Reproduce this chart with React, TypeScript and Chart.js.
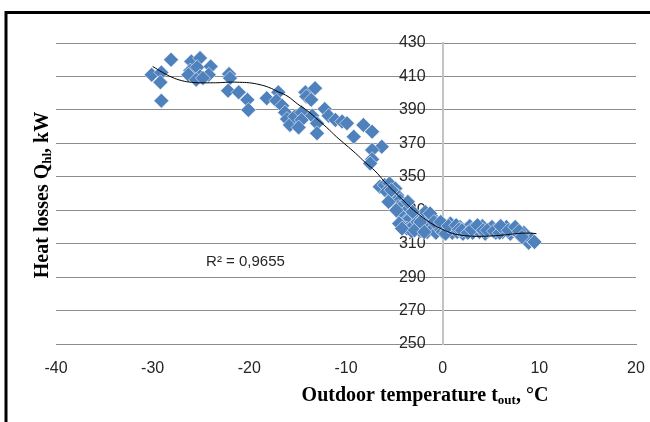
import React, { useEffect, useRef } from "react";
import { Chart, registerables } from "chart.js";

Chart.register(...registerables);

// Measured points: outdoor temperature (°C) and heat losses (kW)
const TEMP_C = [
  -30.1, -29.1, -29.2, -29.1, -28.1, -26.0, -25.1, -26.1, -25.4, -26.3, -25.1, -25.5, -24.0, -24.2, -24.8,
  -22.1, -22.0, -22.2, -21.1, -20.2, -20.1,
  -18.2, -17.0, -17.2, -16.6, -16.3, -16.1, -15.8, -15.3, -14.6, -14.2, -13.2, -14.1, -13.6, -14.6, -14.9,
  -13.5, -13.0, -13.0, -12.2, -11.8, -11.1, -10.4, -9.9, -9.2, -8.2, -7.3, -6.3, -7.3, -7.3, -7.5,
  -6.5, -6.0, -5.5, -4.9, -5.8, -5.2, -4.7, -4.9, -4.4, -4.6, -4.1, -3.8, -4.3, -3.5, -3.9, -3.4, -3.7,
  -3.2, -3.0, -2.8, -2.6, -2.4, -2.2, -2.0, -1.8, -1.6, -1.4, -1.1, -1.0, -0.7, -0.5, -0.3,
  0.0, 0.2, 0.5, 0.8, 1.0, 1.2, 1.5, 1.8, 2.1, 2.4, 2.8, 3.1, 3.4, 3.8, 4.1, 4.4, 4.8, 5.1, 5.5, 5.8,
  6.2, 6.6, 7.0, 7.3, 7.7, 8.0, 8.4, 8.6, 8.9, 9.2, 9.5,
  -5.6, -5.3, -4.8, -4.5, -4.2, -3.6, -3.1, -2.9, -2.3, -1.9, -1.3, -0.9, -0.2, 0.3, 0.6,
  1.4, 1.7, 2.0, 2.6, 3.0, 3.6, 4.2, 4.6, 5.3, 5.9, 6.0, 6.8, 7.5, 7.9, 8.2,
];
const HEAT_KW = [
  411, 412.4, 406.5, 395.5, 420, 419, 421, 413.5, 415.5, 411, 410, 408, 416, 411, 409,
  411.5, 409, 401.5, 400.5, 396, 390,
  397, 400.5, 395.5, 392.5, 388.5, 384.5, 381, 386, 388.5, 400.5, 403, 398, 396, 384, 379.5,
  386.5, 382, 376, 390.5, 386.5, 384, 383, 382, 374, 381, 377, 368, 366, 360.5, 358,
  344, 345, 346, 343, 341, 338, 339, 335, 336, 332, 333, 329, 327, 331, 323, 325, 319,
  317.5, 321, 327, 323, 318, 320.5, 325, 329, 317, 322, 326, 319, 316.5, 322, 319,
  317, 321, 318, 322, 316.5, 319.5, 317, 320, 316, 318.5, 320.5, 316.5, 319, 317, 320.5, 316, 318.5, 320, 316.5, 319,
  317, 320, 316, 318.5, 317, 315, 316.5, 313, 310.5, 312.5, 311,
  335, 342, 330, 322, 319, 335, 329, 318, 323, 317, 328, 323, 323, 316, 320.5,
  321, 318.5, 318, 316.5, 318.5, 321, 318, 318, 317.5, 316.5, 320.5, 318, 320, 317.5, 314,
];

// Polynomial trend line
const TREND_T = [
  -30, -29, -28, -27, -26, -25, -24, -23, -22, -21, -20, -19, -18, -17, -16, -15, -14, -13, -12, -11,
  -10, -9, -8, -7, -6, -5, -4, -3, -2, -1, 0, 1, 2, 3, 4, 5, 6, 7, 8, 9, 9.7,
];
const TREND_Q = [
  416, 412.5, 409.5, 407.5, 406.5, 406.2, 406.2, 406.3, 406.6, 406.5, 406.2, 405.2, 403.5, 400.8, 398, 393.5, 389.5, 384.5, 379.5, 374,
  369, 364, 358.5, 353.5, 347, 341, 335.5, 330, 325.5, 321.5, 318.5, 316.2, 315, 314.5, 314.4, 314.6, 315, 315.6, 316.2, 316.3, 316,
];

const X_TICKS = [-40, -30, -20, -10, 0, 10, 20];
const Y_TICKS = [250, 270, 290, 310, 330, 350, 370, 390, 410, 430];

const R2_TEXT = "R² = 0,9655";
const R2_T = -20.4;
const R2_Q = 299;

const X_TITLE = ["Outdoor temperature t", "out", ", °C"];
const Y_TITLE = ["Heat losses Q", "hl", ", kW"];

const TICK_FONT = { family: "'Liberation Sans', Arial, sans-serif", size: 16 };
const Y_LABEL_GAP = 17;

function drawRich(ctx: CanvasRenderingContext2D, parts: string[], cx: number, cy: number, rot: number) {
  const main = "bold 20px 'Liberation Serif', 'Times New Roman', serif";
  const sub = "bold 13px 'Liberation Serif', 'Times New Roman', serif";
  const widths = parts.map((p, i) => {
    ctx.font = i % 2 ? sub : main;
    return ctx.measureText(p).width;
  });
  const total = widths.reduce((a, b) => a + b, 0);
  ctx.save();
  ctx.translate(cx, cy);
  ctx.rotate(rot);
  ctx.textAlign = "left";
  ctx.textBaseline = "alphabetic";
  ctx.fillStyle = "#000";
  let xx = -total / 2;
  parts.forEach((p, i) => {
    ctx.font = i % 2 ? sub : main;
    ctx.fillText(p, xx, i % 2 ? 3 : 0);
    xx += widths[i];
  });
  ctx.restore();
}

const decorPlugin = {
  id: "decor",
  beforeDraw(chart: any) {
    // y axis crosses at x = 0: keep its tick labels a little to the left of it
    const items = chart.scales.y.getLabelItems();
    if (items && !(items as any)._shifted) {
      items.forEach((it: any) => {
        it.options.translation[0] -= Y_LABEL_GAP;
      });
      (items as any)._shifted = true;
    }
  },
  afterDraw(chart: any) {
    const { ctx, scales } = chart;
    const x = scales.x;
    const y = scales.y;
    ctx.save();
    // outer frame (left and top edges visible)
    ctx.strokeStyle = "#000";
    ctx.lineWidth = 3;
    ctx.beginPath();
    ctx.moveTo(6, 440);
    ctx.lineTo(6, 12.5);
    ctx.lineTo(670, 12.5);
    ctx.stroke();
    // R² label
    ctx.font = "15px 'Liberation Sans', Arial, sans-serif";
    ctx.fillStyle = "#262626";
    ctx.textAlign = "center";
    ctx.textBaseline = "middle";
    ctx.fillText(R2_TEXT, x.getPixelForValue(R2_T), y.getPixelForValue(R2_Q));
    // axis titles
    drawRich(ctx, X_TITLE, 425, 401, 0);
    drawRich(ctx, Y_TITLE, 48, 195, -Math.PI / 2);
    ctx.restore();
  },
};

export default function App() {
  const ref = useRef<HTMLCanvasElement | null>(null);

  useEffect(() => {
    if (!ref.current) return;
    const points = TEMP_C.map((t, i) => ({ x: t, y: HEAT_KW[i] }));
    const trend = TREND_T.map((t, i) => ({ x: t, y: TREND_Q[i] }));
    const chart = new Chart(ref.current, {
      type: "scatter",
      data: {
        datasets: [
          {
            label: "Trend",
            data: trend,
            showLine: true,
            borderColor: "#000",
            borderWidth: 1,
            pointRadius: 0,
            tension: 0.4,
            order: 0,
          } as any,
          {
            label: "Heat losses",
            data: points,
            pointStyle: "rectRot",
            pointRadius: 7.5,
            backgroundColor: "#4f81bd",
            borderColor: "rgba(255,255,255,0.55)",
            borderWidth: 1,
            order: 1,
          },
        ],
      },
      options: {
        responsive: false,
        animation: false,
        events: [],
        layout: { padding: { left: 56, right: 14, top: 43, bottom: 28 } },
        plugins: { legend: { display: false }, tooltip: { enabled: false } },
        scales: {
          x: {
            type: "linear",
            position: "bottom",
            min: -40,
            max: 20,
            afterBuildTicks: (s: any) => {
              s.ticks = X_TICKS.map((v) => ({ value: v }));
            },
            afterFit: (s: any) => {
              s.height = 50;
            },
            grid: { display: false, drawTicks: true, tickLength: 15 },
            border: { display: true, color: "#8c8c8c", width: 1 },
            ticks: { padding: 0, font: TICK_FONT, color: "#262626", maxRotation: 0 },
          },
          y: {
            type: "linear",
            position: { x: 0 } as any,
            min: 250,
            max: 430,
            afterBuildTicks: (s: any) => {
              s.ticks = Y_TICKS.map((v) => ({ value: v }));
            },
            grid: { color: "#8c8c8c", drawTicks: false },
            border: { display: true, color: "#c4c4c4", width: 2 },
            ticks: { padding: 0, font: TICK_FONT, color: "#262626" },
          },
        },
      },
      plugins: [decorPlugin],
    });
    return () => chart.destroy();
  }, []);

  return (
    <div style={{ position: "absolute", left: 0, top: 0, width: 650, height: 422, background: "#fff" }}>
      <canvas ref={ref} width={650} height={422} />
    </div>
  );
}
